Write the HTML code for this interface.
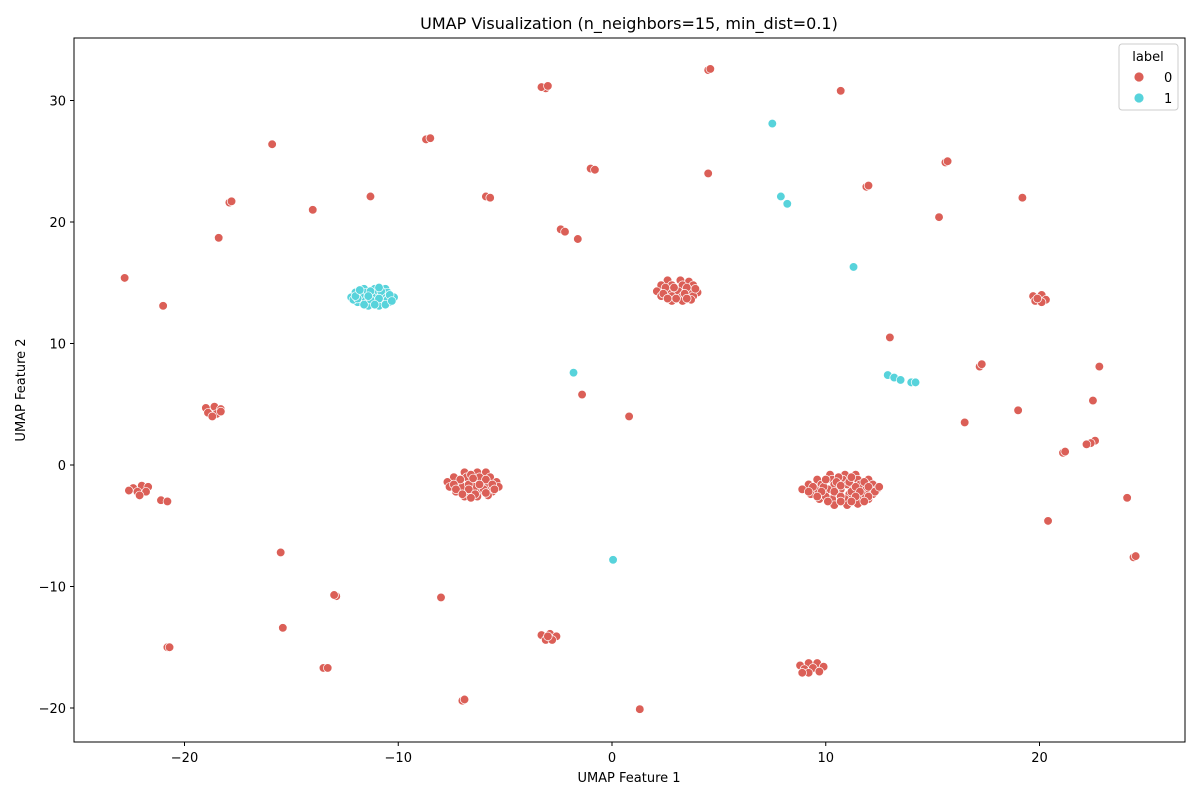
<!DOCTYPE html>
<html><head><meta charset="utf-8"><style>
body{margin:0;background:#fff;font-family:"Liberation Sans","DejaVu Sans",sans-serif}
svg text{font-family:"DejaVu Sans","Liberation Sans",sans-serif}
</style></head><body>
<svg id="chart" width="1200" height="800" xmlns="http://www.w3.org/2000/svg">
<rect width="1200" height="800" fill="#fff"/>
<text x="629" y="29" text-anchor="middle" font-size="16">UMAP Visualization (n_neighbors=15, min_dist=0.1)</text>
<text x="629" y="782" text-anchor="middle" font-size="13">UMAP Feature 1</text>
<text transform="translate(25,390) rotate(-90)" text-anchor="middle" font-size="13">UMAP Feature 2</text>
<g id="ticks"></g>
<g id="points"></g>
<rect x="74" y="38" width="1111" height="704" fill="none" stroke="#000" stroke-width="1"/>
<g>
<rect x="1119" y="44" width="59" height="66" rx="3" fill="#fff" fill-opacity="0.8" stroke="#ccc"/>
<text x="1148" y="61" text-anchor="middle" font-size="13">label</text>
<circle cx="1139" cy="77" r="5" fill="#db5f57" stroke="#fff" stroke-width="0.8"/>
<text x="1164" y="82" font-size="13">0</text>
<circle cx="1139" cy="98" r="5" fill="#57d3db" stroke="#fff" stroke-width="0.8"/>
<text x="1164" y="103" font-size="13">1</text>
</g>
</svg>
<script>
const xTicks=[-20,-10,0,10,20];
const yTicks=[-20,-10,0,10,20,30];
const redPoints=[[-22.8,15.4],[-21.0,13.1],[-15.9,26.4],[-17.9,21.6],[-17.8,21.7],[-18.4,18.7],[-14.0,21.0],[-11.3,22.1],[-3.1,31.0],[-3.3,31.1],[-3.0,31.2],[-8.7,26.8],[-8.5,26.9],[-5.9,22.1],[-5.7,22.0],[-1.0,24.4],[-0.8,24.3],[-2.4,19.4],[-2.2,19.2],[-1.6,18.6],[4.5,32.5],[4.6,32.6],[10.7,30.8],[4.5,24.0],[11.9,22.9],[12.0,23.0],[15.6,24.9],[15.7,25.0],[15.3,20.4],[19.2,22.0],[13.0,10.5],[17.2,8.1],[17.3,8.3],[22.8,8.1],[-1.4,5.8],[0.8,4.0],[16.5,3.5],[19.0,4.5],[22.5,5.3],[22.6,2.0],[22.4,1.8],[22.2,1.7],[21.1,1.0],[21.2,1.1],[-21.1,-2.9],[-20.8,-3.0],[24.1,-2.7],[20.4,-4.6],[24.4,-7.6],[24.5,-7.5],[-15.5,-7.2],[-8.0,-10.9],[-12.9,-10.8],[-13.0,-10.7],[-15.4,-13.4],[-20.8,-15.0],[-20.7,-15.0],[-13.5,-16.7],[-13.3,-16.7],[-7.0,-19.4],[-6.9,-19.3],[1.3,-20.1],
[10.2,-0.8],[10.9,-0.8],[11.4,-0.8],[9.6,-1.2],[10.3,-1.2],[10.8,-1.2],[11.5,-1.2],[12.0,-1.2],[9.2,-1.6],[9.8,-1.6],[10.4,-1.6],[11.0,-1.6],[11.6,-1.6],[12.2,-1.6],[8.9,-2.0],[9.5,-2.0],[10.1,-2.0],[10.7,-2.0],[11.3,-2.0],[11.9,-2.0],[12.4,-2.0],[9.3,-2.4],[9.9,-2.4],[10.5,-2.4],[11.1,-2.4],[11.7,-2.4],[12.2,-2.4],[9.7,-2.8],[10.3,-2.8],[10.9,-2.8],[11.5,-2.8],[12.0,-2.8],[10.4,-3.3],[11.0,-3.3],[11.5,-3.2],[10.6,-1.0],[11.2,-2.2],[9.9,-1.8],[10.0,-2.6],[11.8,-1.4],
[10.5,-1.4],[11.1,-1.4],[9.4,-1.8],[10.7,-1.7],[11.4,-1.8],[12.0,-1.8],[9.2,-2.2],[9.8,-2.2],[10.4,-2.2],[11.6,-2.2],[12.3,-2.2],[9.6,-2.6],[10.7,-2.6],[11.4,-2.6],[12.0,-2.6],[10.1,-3.0],[10.7,-3.0],[11.2,-3.0],[11.8,-3.0],[10.0,-1.2],[11.2,-1.0],[12.5,-1.8],
[-6.9,-0.6],[-6.3,-0.6],[-5.9,-0.6],[-7.4,-1.0],[-6.8,-1.0],[-6.2,-1.0],[-5.7,-1.0],[-7.7,-1.4],[-7.1,-1.4],[-6.5,-1.4],[-5.9,-1.4],[-5.4,-1.4],[-7.6,-1.8],[-7.0,-1.8],[-6.4,-1.8],[-5.8,-1.8],[-5.3,-1.8],[-7.3,-2.2],[-6.7,-2.2],[-6.1,-2.2],[-5.6,-2.2],[-6.9,-2.6],[-6.3,-2.6],[-5.8,-2.5],[-6.7,-1.6],[-6.0,-2.0],
[-6.6,-0.8],[-7.1,-1.2],[-6.5,-1.1],[-5.9,-1.2],[-7.4,-1.6],[-6.2,-1.6],[-5.6,-1.6],[-7.3,-2.0],[-6.7,-2.0],[-5.5,-2.0],[-7.0,-2.4],[-6.4,-2.4],[-5.9,-2.3],[-6.6,-2.7],
[2.6,15.2],[3.2,15.2],[3.6,15.1],[2.3,14.8],[2.8,14.8],[3.3,14.8],[3.8,14.8],[2.1,14.3],[2.6,14.3],[3.1,14.3],[3.6,14.3],[4.0,14.2],[2.3,13.9],[2.8,13.9],[3.3,13.9],[3.8,13.9],[2.8,13.5],[3.3,13.5],[3.7,13.6],[2.9,14.6],
[2.5,14.6],[3.5,14.6],[2.4,14.1],[3.4,14.1],[3.9,14.5],[3.0,13.7],[3.5,13.7],[2.6,13.7],
[19.7,13.9],[20.1,14.0],[20.3,13.6],[19.8,13.5],[20.1,13.4],[19.9,13.7],
[-19.0,4.7],[-18.6,4.8],[-18.3,4.6],[-18.9,4.3],[-18.5,4.2],[-18.7,4.0],[-18.3,4.4],
[-22.4,-1.9],[-22.0,-1.7],[-21.7,-1.8],[-22.2,-2.2],[-21.8,-2.2],[-22.1,-2.5],[-22.6,-2.1],
[-3.3,-14.0],[-2.9,-13.9],[-2.6,-14.1],[-3.1,-14.4],[-2.8,-14.4],[-3.0,-14.1],
[8.8,-16.5],[9.2,-16.3],[9.6,-16.3],[9.9,-16.6],[9.0,-16.8],[9.4,-16.7],[9.7,-17.0],[9.2,-17.1],[8.9,-17.1]];
const cyanPoints=[[7.5,28.1],[7.9,22.1],[8.2,21.5],[11.3,16.3],[-1.8,7.6],[0.05,-7.8],[12.9,7.4],[13.2,7.2],[13.5,7.0],[14.0,6.8],[14.2,6.8],
[-11.6,14.5],[-11.1,14.5],[-10.6,14.5],[-12.0,14.2],[-11.5,14.2],[-11.0,14.2],[-10.5,14.2],[-12.2,13.8],[-11.7,13.8],[-11.2,13.8],[-10.7,13.8],[-10.2,13.8],[-11.9,13.4],[-11.4,13.4],[-10.9,13.4],[-10.4,13.4],[-11.4,13.1],[-10.9,13.1],[-11.8,14.0],[-10.8,14.0],[-11.3,13.6],[-10.5,13.6],[-12.1,13.6],
[-11.3,14.3],[-10.8,14.3],[-11.9,13.7],[-10.9,13.7],[-10.4,14.0],[-11.6,13.2],[-11.1,13.2],[-10.6,13.2],[-11.4,13.9],[-12.0,13.9],[-10.3,13.5],[-11.8,14.4],[-10.9,14.6]];
const sx=v=>612+v*21.375;
const sy=v=>465-v*12.15;
const NS="http://www.w3.org/2000/svg";
const tg=document.getElementById('ticks');
xTicks.forEach(t=>{
const l=document.createElementNS(NS,'line');


l.setAttribute('x1',sx(t));l.setAttribute('x2',sx(t));l.setAttribute('y1',742);l.setAttribute('y2',746);l.setAttribute('stroke','#000');tg.appendChild(l);
const tx=document.createElementNS(NS,'text');


tx.setAttribute('x',sx(t));tx.setAttribute('y',762);tx.setAttribute('text-anchor','middle');tx.setAttribute('font-size','13');
tx.textContent=t<0?'\u2212'+(-t):String(t);tg.appendChild(tx);
});
yTicks.forEach(t=>{
const l=document.createElementNS(NS,'line');


l.setAttribute('x1',70);l.setAttribute('x2',74);l.setAttribute('y1',sy(t));l.setAttribute('y2',sy(t));l.setAttribute('stroke','#000');tg.appendChild(l);
const tx=document.createElementNS(NS,'text');


tx.setAttribute('x',66);tx.setAttribute('y',sy(t)+5);tx.setAttribute('text-anchor','end');tx.setAttribute('font-size','13');
tx.textContent=t<0?'\u2212'+(-t):String(t);tg.appendChild(tx);
});
const pg=document.getElementById('points');
function draw(arr,col,name){arr.forEach(p=>{
const c=document.createElementNS(NS,'circle');


c.setAttribute('cx',sx(p[0]));c.setAttribute('cy',sy(p[1]));c.setAttribute('r',4.3);
c.setAttribute('fill',col);c.setAttribute('stroke','#fff');c.setAttribute('stroke-width','0.7');
pg.appendChild(c);});}
draw(redPoints,'#db5f57','point-label-0');
draw(cyanPoints,'#57d3db','point-label-1');
</script>
</body></html>
